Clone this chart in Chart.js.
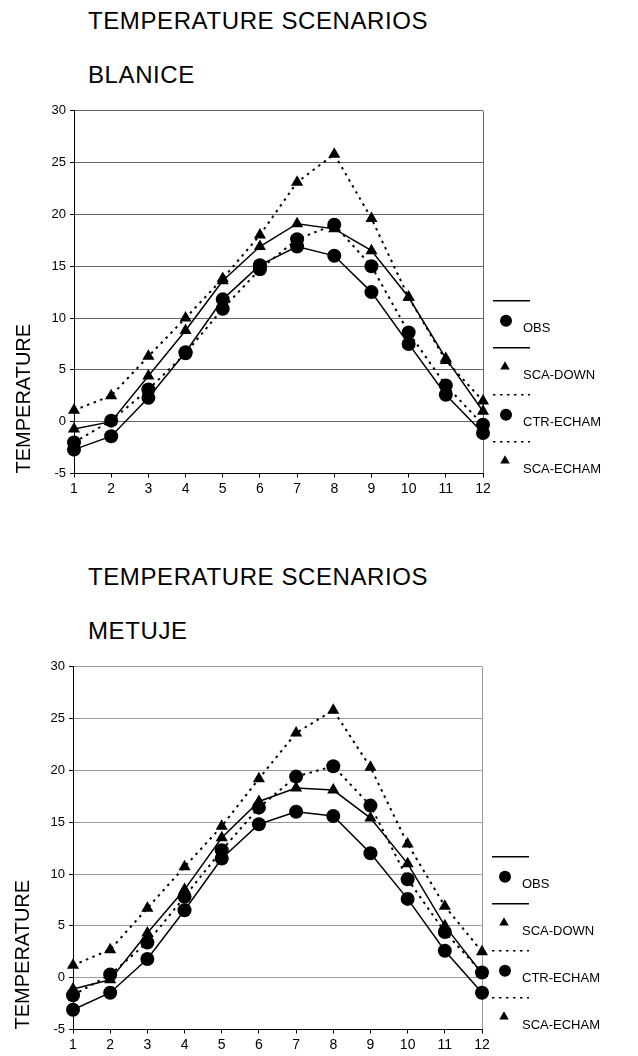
<!DOCTYPE html>
<html>
<head>
<meta charset="utf-8">
<script src="https://cdn.jsdelivr.net/npm/chart.js@4.4.1/dist/chart.umd.min.js"></script>
<style>
  html, body { margin: 0; padding: 0; background: #fff; }
  #page { position: relative; width: 638px; height: 1056px; overflow: hidden; font-family: 'Liberation Sans', Arial, sans-serif; }
  .title { position: absolute; left: 88px; font-size: 24px; line-height: 1; color: #000; white-space: nowrap; letter-spacing: 0.6px; }
  canvas { position: absolute; }
</style>
</head>
<body>
<div id="page">
  <div class="title" style="top:9px">TEMPERATURE SCENARIOS</div>
  <div class="title" style="top:63px">BLANICE</div>
  <canvas id="blanice" width="638" height="410" style="left:0;top:90px"></canvas>

  <div class="title" style="top:565px">TEMPERATURE SCENARIOS</div>
  <div class="title" style="top:619px">METUJE</div>
  <canvas id="metuje" width="638" height="410" style="left:-1px;top:646px"></canvas>
</div>
<script>
// months on the x axis
const months = ['1', '2', '3', '4', '5', '6', '7', '8', '9', '10', '11', '12'];
const seriesNames = ['OBS', 'SCA-DOWN', 'CTR-ECHAM', 'SCA-ECHAM'];
const tempMin = -5;
const tempMax = 30;
const tempStep = 5;

// Blanice
const blaniceObs      = [-2.7, -1.4, 2.3, 6.7, 11.8, 15.1, 16.9, 16.0, 12.5, 7.5, 2.6, -1.1];
const blaniceScaDown  = [-0.7, 0.0, 4.4, 8.8, 13.6, 16.9, 19.1, 18.6, 16.5, 12.0, 6.1, 1.0];
const blaniceCtrEcham = [-2.0, 0.1, 3.1, 6.6, 10.9, 14.7, 17.6, 19.0, 15.0, 8.6, 3.5, -0.3];
const blaniceScaEcham = [1.1, 2.5, 6.3, 10.0, 13.8, 18.0, 23.1, 25.8, 19.6, 12.0, 5.9, 2.0];

// Metuje
const metujeObs      = [-3.1, -1.45, 1.8, 6.5, 11.5, 14.8, 16.0, 15.6, 12.0, 7.6, 2.6, -1.45];
const metujeScaDown  = [-1.1, -0.2, 4.3, 8.5, 13.5, 17.0, 18.3, 18.1, 15.4, 11.0, 5.0, 0.4];
const metujeCtrEcham = [-1.7, 0.3, 3.4, 7.8, 12.3, 16.4, 19.4, 20.4, 16.6, 9.5, 4.4, 0.5];
const metujeScaEcham = [1.2, 2.7, 6.7, 10.7, 14.6, 19.2, 23.6, 25.8, 20.3, 12.9, 6.9, 2.5];

Chart.defaults.font.family = "'Liberation Sans', Arial, sans-serif";
Chart.defaults.color = '#000';

const dotted = [2.5, 4.5];

// legend on the right: line, marker below it, label next to marker
const sideLegend = {
  id: 'sideLegend',
  afterDraw(chart) {
    const ctx = chart.ctx;
    const area = chart.chartArea;
    const x0 = area.right + 10;
    ctx.save();
    chart.data.datasets.forEach((ds, i) => {
      const y = area.top + 190 + i * 47;
      ctx.strokeStyle = '#000';
      ctx.lineWidth = 1.5;
      ctx.setLineDash(ds.borderDash || []);
      ctx.beginPath();
      ctx.moveTo(x0, y);
      ctx.lineTo(x0 + 37, y);
      ctx.stroke();
      ctx.setLineDash([]);
      ctx.fillStyle = '#000';
      ctx.beginPath();
      if (ds.pointStyle === 'circle') {
        ctx.arc(x0 + 13, y + 20, 6, 0, Math.PI * 2);
      } else {
        const cx = x0 + 12, cy = y + 19, r = 5.5;
        ctx.moveTo(cx, cy - r);
        ctx.lineTo(cx + r * 0.866, cy + r * 0.5);
        ctx.lineTo(cx - r * 0.866, cy + r * 0.5);
        ctx.closePath();
      }
      ctx.fill();
      ctx.font = "13px 'Liberation Sans', Arial, sans-serif";
      ctx.textBaseline = 'alphabetic';
      ctx.fillText(ds.label, x0 + 30, y + 31);
    });
    ctx.restore();
  }
};

function series(label, data, style, dash) {
  return {
    label: label,
    data: data,
    borderColor: '#000',
    backgroundColor: '#000',
    borderWidth: dash ? 2 : 1.5,
    borderDash: dash ? dotted : [],
    pointStyle: style,
    pointRadius: 7,
    pointBackgroundColor: '#000',
    pointBorderColor: '#000',
    pointBorderWidth: 0,
    tension: 0,
    fill: false
  };
}

function makeChart(id, obs, scaDown, ctrEcham, scaEcham, gridColor) {
  return new Chart(document.getElementById(id), {
    type: 'line',
    data: {
      labels: months,
      datasets: [
        series(seriesNames[0], obs, 'circle', false),
        series(seriesNames[1], scaDown, 'triangle', false),
        series(seriesNames[2], ctrEcham, 'circle', true),
        series(seriesNames[3], scaEcham, 'triangle', true)
      ]
    },
    options: {
      responsive: false,
      animation: false,
      events: [],
      layout: { padding: { left: 8, right: 155, top: 20.7, bottom: 0 } },
      plugins: { legend: { display: false }, tooltip: { enabled: false } },
      scales: {
        x: {
          offset: false,
          grid: {
            color: c => c.index === months.length - 1 ? gridColor : 'rgba(0,0,0,0)',
            tickColor: '#000',
            tickLength: 4
          },
          border: { color: '#000', width: 1 },
          ticks: { font: { size: 14 }, padding: 3, maxRotation: 0 },
          afterFit: s => { s.height = 26.5; }
        },
        y: {
          min: tempMin,
          max: tempMax,
          ticks: { stepSize: tempStep, font: { size: 13 }, padding: 4 },
          grid: { color: gridColor, tickColor: '#000', tickLength: 4 },
          border: { color: '#000', width: 1 },
          title: {
            display: true,
            text: 'TEMPERATURE',
            align: 'start',
            font: { size: 20 },
            padding: { top: 4, bottom: 4 }
          },
          afterFit: s => { s.width = 66; }
        }
      }
    },
    plugins: [sideLegend]
  });
}

makeChart('blanice', blaniceObs, blaniceScaDown, blaniceCtrEcham, blaniceScaEcham, '#666');
makeChart('metuje', metujeObs, metujeScaDown, metujeCtrEcham, metujeScaEcham, '#999');
</script>
</body>
</html>
